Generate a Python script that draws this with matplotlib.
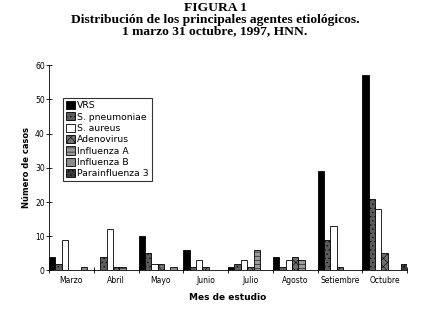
import numpy as np
import matplotlib
matplotlib.use("Agg")
import matplotlib.pyplot as plt

months = ["Marzo", "Abril", "Mayo", "Junio", "Julio", "Agosto", "Setiembre", "Octubre"]
series = ["VRS", "S. pneumoniae", "S. aureus", "Adenovirus", "Influenza A", "Influenza B", "Parainfluenza 3"]
vrs = [4, 0, 10, 6, 1, 4, 29, 57]
s_pneumoniae = [2, 4, 5, 1, 2, 1, 9, 21]
s_aureus = [9, 12, 2, 3, 3, 3, 13, 18]
adenovirus = [0, 1, 2, 1, 1, 4, 1, 5]
influenza_a = [0, 1, 0, 0, 6, 3, 0, 0]
influenza_b = [1, 0, 1, 0, 0, 0, 0, 0]
parainfluenza_3 = [0, 0, 0, 0, 0, 0, 0, 2]
values = [vrs, s_pneumoniae, s_aureus, adenovirus, influenza_a, influenza_b, parainfluenza_3]

# scanned-looking fills
faces = ["black", "#5c5c5c", "white", "#6e6e6e", "#9a9a9a", "#8a8a8a", "#3c3c3c"]
hatches = [None, "....", None, "xxxx", "----", "====", "...."]

fig = plt.figure(figsize=(4.3, 3.16), dpi=100)
ax = fig.add_axes([0.114, 0.144, 0.8325, 0.65])

n = len(series)
w = 1.0 / n
x = np.arange(len(months))
plt.rcParams['hatch.linewidth'] = 0.4
for k in range(n):
    ax.bar(x + (k + 0.5) * w, values[k], width=w, color=faces[k], edgecolor="black",
           linewidth=0.6, hatch=hatches[k], label=series[k])

ax.set_xlim(0, len(months))
ax.set_ylim(0, 60)
ax.set_yticks(range(0, 61, 10))
ax.tick_params(axis="y", direction="inout", length=4, width=0.6, labelsize=5.5, pad=1)
ax.set_xticks(range(0, len(months) + 1))
ax.set_xticklabels([])
ax.tick_params(axis="x", which="major", direction="inout", length=4, width=0.6)
ax.set_xticks(x + 0.5, minor=True)
ax.set_xticklabels(months, minor=True, fontsize=5.5)
ax.tick_params(axis="x", which="minor", length=0, pad=4)

for s in ["top", "right"]:
    ax.spines[s].set_visible(False)
ax.spines["left"].set_linewidth(0.6)
ax.spines["bottom"].set_linewidth(0.6)

ax.set_ylabel("Número de casos", fontsize=6, fontweight="bold", labelpad=3)
ax.set_xlabel("Mes de estudio", fontsize=6.5, fontweight="bold", labelpad=6)

leg = ax.legend(loc="upper left", bbox_to_anchor=(0.04, 0.84), fontsize=6.7,
                frameon=True, fancybox=False, shadow=False, borderpad=0.3,
                labelspacing=0.22, handlelength=1.0, handleheight=1.0,
                handletextpad=0.2, borderaxespad=0)
leg.get_frame().set_edgecolor("black")
leg.get_frame().set_linewidth(0.8)

fig.text(0.5, 0.993, "FIGURA 1\nDistribución de los principales agentes etiológicos.\n1 marzo 31 octubre, 1997, HNN.",
         ha="center", va="top", family="Liberation Serif", fontweight="bold",
         fontsize=9.7, linespacing=0.95)

fig.savefig("out.png", dpi=100)
